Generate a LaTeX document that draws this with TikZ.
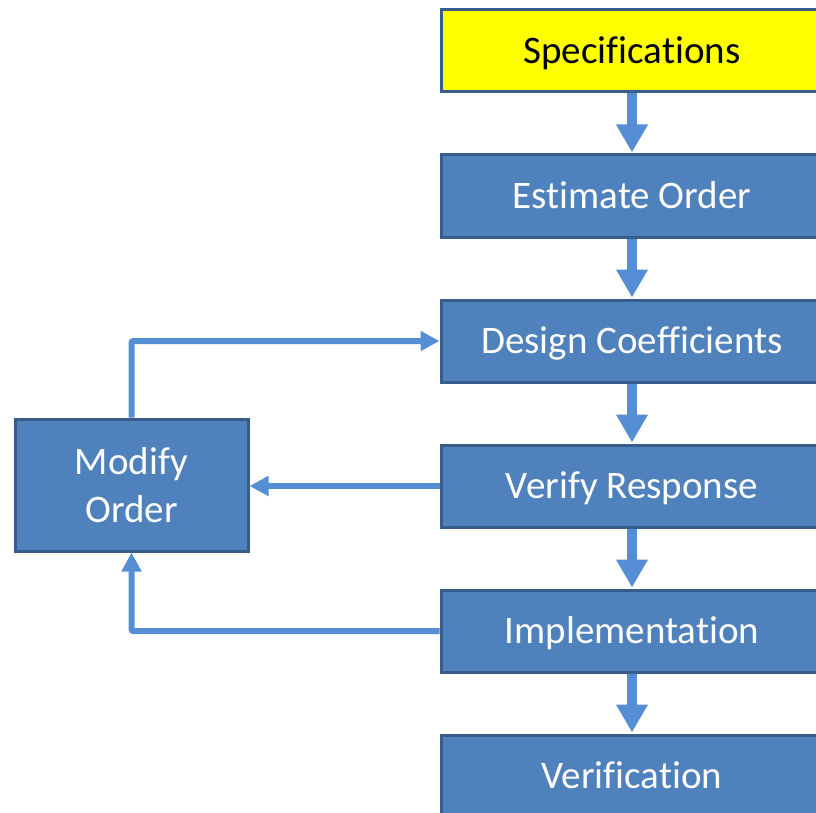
\documentclass[tikz,border=0pt]{standalone}
\usepackage{fontspec}
\setmainfont{Carlito}[Ligatures=NoCommon]
\usetikzlibrary{arrows.meta}
\definecolor{boxfill}{HTML}{4F81BD}
\definecolor{boxline}{HTML}{385D8A}
\definecolor{arrowc}{HTML}{558ED5}
\definecolor{specfill}{HTML}{FFFF00}
\tikzset{
  basebox/.style={draw=boxline, line width=3pt, fill=boxfill, text=white,
    inner sep=0pt},
  stagebox/.style={basebox, minimum width=382pt, minimum height=82pt,
    text height=25pt, text depth=0pt,
    font=\fontsize{39pt}{47pt}\selectfont},
  specbox/.style={stagebox, fill=specfill, text=black},
  modbox/.style={basebox, minimum width=233pt, minimum height=132pt,
    align=center, font=\fontsize{39pt}{48pt}\selectfont},
  flowarrow/.style={draw=arrowc, line width=10pt, -{Triangle[length=28pt,width=30pt]}, shorten >=1pt},
  loopline/.style={draw=arrowc, line width=6pt, rounded corners=2pt, -{Triangle[length=19pt,width=19pt]}}
}
\begin{document}
\begin{tikzpicture}[x=1pt,y=-1pt]
\useasboundingbox (0,0) rectangle (816,813);
\clip (0,0) rectangle (816,813);
\node[specbox]  (spec) at (632,51)  {Specifications};
\node[stagebox] (est)  at (632,196) {Estimate Order};
\node[stagebox] (des)  at (632,341) {Design Coefficients};
\node[stagebox] (ver)  at (632,486) {Verify Response};
\node[stagebox] (imp)  at (632,631) {Implementation};
\node[stagebox] (vfn)  at (632,776) {Verification};
\node[modbox]   (mod)  at (131.5,485) {Modify\\Order};
\draw[flowarrow] (spec.south) -- (est.north);
\draw[flowarrow] (est.south) -- (des.north);
\draw[flowarrow] (des.south) -- (ver.north);
\draw[flowarrow] (ver.south) -- (imp.north);
\draw[flowarrow] (imp.south) -- (vfn.north);
\draw[loopline] (mod.north) |- (des.west);
\draw[loopline] (ver.west) -- (ver.west -| mod.east);
\draw[loopline] (imp.west) -| (mod.south);
\end{tikzpicture}
\end{document}
